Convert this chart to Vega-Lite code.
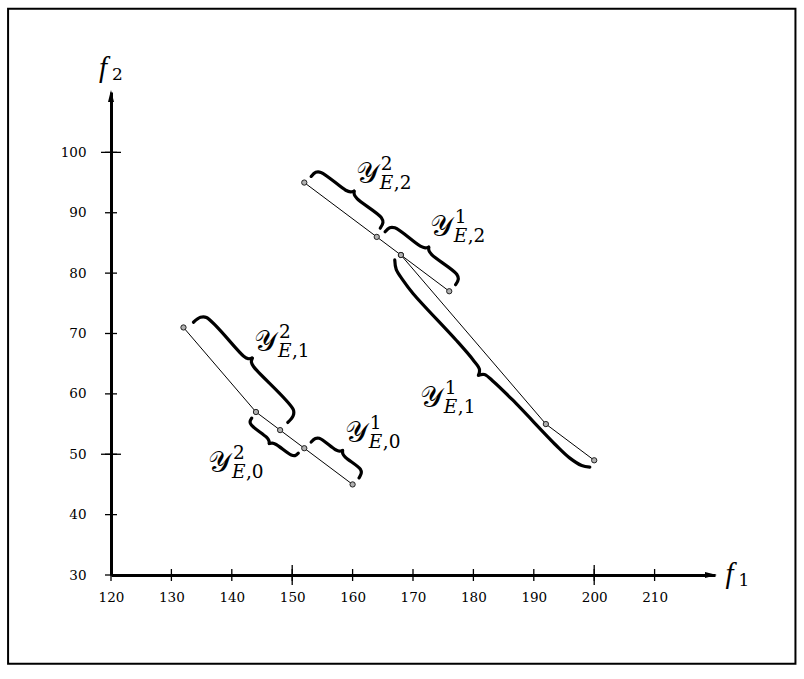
{
  "$schema": "https://vega.github.io/schema/vega-lite/v6.json",
  "width": 604,
  "height": 483,
  "autosize": {"type": "none"},
  "padding": {"left": 111, "top": 92, "right": 89, "bottom": 104},
  "background": "white",
  "config": {"view": {"stroke": null}},
  "datasets": {
    "pts": [
      {"s": "a", "i": 1, "x": 132, "y": 71},
      {"s": "a", "i": 2, "x": 144, "y": 57},
      {"s": "a", "i": 3, "x": 148, "y": 54},
      {"s": "a", "i": 4, "x": 152, "y": 51},
      {"s": "a", "i": 5, "x": 160, "y": 45},
      {"s": "b", "i": 1, "x": 152, "y": 95},
      {"s": "b", "i": 2, "x": 164, "y": 86},
      {"s": "b", "i": 3, "x": 168, "y": 83},
      {"s": "b", "i": 4, "x": 176, "y": 77},
      {"s": "c", "i": 1, "x": 168, "y": 83},
      {"s": "c", "i": 2, "x": 192, "y": 55},
      {"s": "c", "i": 3, "x": 200, "y": 49}
    ],
    "braces": [
      {"h": "1a", "o": 1, "x": 153.14, "y": 96.02},
      {"h": "1a", "o": 2, "x": 153.9, "y": 96.7},
      {"h": "1a", "o": 3, "x": 154.76, "y": 96.68},
      {"h": "1a", "o": 4, "x": 158.86, "y": 93.73},
      {"h": "1a", "o": 5, "x": 159.65, "y": 93.45},
      {"h": "1a", "o": 6, "x": 160.24, "y": 93.57},
      {"h": "1b", "o": 1, "x": 160.24, "y": 93.57},
      {"h": "1b", "o": 2, "x": 160.29, "y": 92.97},
      {"h": "1b", "o": 3, "x": 160.78, "y": 92.29},
      {"h": "1b", "o": 4, "x": 164.76, "y": 89.18},
      {"h": "1b", "o": 5, "x": 165.02, "y": 88.36},
      {"h": "1b", "o": 6, "x": 164.58, "y": 87.44},
      {"h": "2a", "o": 1, "x": 165.38, "y": 86.84},
      {"h": "2a", "o": 2, "x": 166.14, "y": 87.52},
      {"h": "2a", "o": 3, "x": 167.0, "y": 87.5},
      {"h": "2a", "o": 4, "x": 171.22, "y": 84.46},
      {"h": "2a", "o": 5, "x": 172.01, "y": 84.18},
      {"h": "2a", "o": 6, "x": 172.6, "y": 84.3},
      {"h": "2b", "o": 1, "x": 172.6, "y": 84.3},
      {"h": "2b", "o": 2, "x": 172.65, "y": 83.7},
      {"h": "2b", "o": 3, "x": 173.14, "y": 83.02},
      {"h": "2b", "o": 4, "x": 177.24, "y": 79.82},
      {"h": "2b", "o": 5, "x": 177.5, "y": 79.0},
      {"h": "2b", "o": 6, "x": 177.06, "y": 78.08},
      {"h": "3a", "o": 1, "x": 133.65, "y": 71.87},
      {"h": "3a", "o": 2, "x": 134.81, "y": 72.68},
      {"h": "3a", "o": 3, "x": 135.8, "y": 72.65},
      {"h": "3a", "o": 4, "x": 141.97, "y": 66.24},
      {"h": "3a", "o": 5, "x": 142.7, "y": 65.83},
      {"h": "3a", "o": 6, "x": 143.38, "y": 65.92},
      {"h": "3b", "o": 1, "x": 143.38, "y": 65.92},
      {"h": "3b", "o": 2, "x": 143.25, "y": 65.25},
      {"h": "3b", "o": 3, "x": 143.62, "y": 64.49},
      {"h": "3b", "o": 4, "x": 150.19, "y": 57.36},
      {"h": "3b", "o": 5, "x": 150.16, "y": 56.37},
      {"h": "3b", "o": 6, "x": 149.28, "y": 55.27},
      {"h": "4a", "o": 1, "x": 143.29, "y": 55.97},
      {"h": "4a", "o": 2, "x": 143.02, "y": 55.36},
      {"h": "4a", "o": 3, "x": 143.28, "y": 54.79},
      {"h": "4a", "o": 4, "x": 145.74, "y": 52.82},
      {"h": "4a", "o": 5, "x": 146.14, "y": 52.27},
      {"h": "4a", "o": 6, "x": 146.21, "y": 51.78},
      {"h": "4b", "o": 1, "x": 146.21, "y": 51.78},
      {"h": "4b", "o": 2, "x": 146.7, "y": 51.85},
      {"h": "4b", "o": 3, "x": 147.34, "y": 51.62},
      {"h": "4b", "o": 4, "x": 149.84, "y": 49.87},
      {"h": "4b", "o": 5, "x": 150.46, "y": 49.78},
      {"h": "4b", "o": 6, "x": 151.01, "y": 50.18},
      {"h": "5a", "o": 1, "x": 153.14, "y": 52.02},
      {"h": "5a", "o": 2, "x": 153.84, "y": 52.62},
      {"h": "5a", "o": 3, "x": 154.48, "y": 52.64},
      {"h": "5a", "o": 4, "x": 157.18, "y": 50.74},
      {"h": "5a", "o": 5, "x": 157.82, "y": 50.51},
      {"h": "5a", "o": 6, "x": 158.34, "y": 50.62},
      {"h": "5b", "o": 1, "x": 158.34, "y": 50.62},
      {"h": "5b", "o": 2, "x": 158.38, "y": 50.09},
      {"h": "5b", "o": 3, "x": 158.78, "y": 49.54},
      {"h": "5b", "o": 4, "x": 161.28, "y": 47.54},
      {"h": "5b", "o": 5, "x": 161.44, "y": 46.92},
      {"h": "5b", "o": 6, "x": 161.06, "y": 46.08},
      {"h": "6a", "o": 1, "x": 166.98, "y": 82.18},
      {"h": "6a", "o": 2, "x": 167.22, "y": 80.62},
      {"h": "6a", "o": 3, "x": 168.3, "y": 78.89},
      {"h": "6a", "o": 4, "x": 170.0, "y": 76.64},
      {"h": "6a", "o": 5, "x": 177.12, "y": 68.93},
      {"h": "6a", "o": 6, "x": 179.93, "y": 65.66},
      {"h": "6a", "o": 7, "x": 181.01, "y": 64.07},
      {"h": "6a", "o": 8, "x": 180.84, "y": 63.09},
      {"h": "6b", "o": 1, "x": 180.84, "y": 63.09},
      {"h": "6b", "o": 2, "x": 181.83, "y": 63.2},
      {"h": "6b", "o": 3, "x": 183.35, "y": 62.02},
      {"h": "6b", "o": 4, "x": 186.45, "y": 59.03},
      {"h": "6b", "o": 5, "x": 193.72, "y": 51.45},
      {"h": "6b", "o": 6, "x": 195.92, "y": 49.4},
      {"h": "6b", "o": 7, "x": 197.93, "y": 48.14},
      {"h": "6b", "o": 8, "x": 199.27, "y": 47.88}
    ],
    "labs": [
      {"x": 160.53, "y": 95.01, "m": "𝒴", "sup": "2", "e": "E", "n": ",2"},
      {"x": 172.77, "y": 86.08, "m": "𝒴", "sup": "1", "e": "E", "n": ",2"},
      {"x": 143.66, "y": 67.06, "m": "𝒴", "sup": "2", "e": "E", "n": ",1"},
      {"x": 171.12, "y": 57.79, "m": "𝒴", "sup": "1", "e": "E", "n": ",1"},
      {"x": 158.71, "y": 52.0, "m": "𝒴", "sup": "1", "e": "E", "n": ",0"},
      {"x": 136.05, "y": 47.04, "m": "𝒴", "sup": "2", "e": "E", "n": ",0"}
    ],
    "axlabs": [
      {"x": 221.74, "y": 28.6, "f": "f", "s": "1"},
      {"x": 118.01, "y": 112.55, "f": "f", "s": "2"}
    ],
    "xt": [{"v": 120}, {"v": 130}, {"v": 140}, {"v": 150}, {"v": 160}, {"v": 170}, {"v": 180}, {"v": 190}, {"v": 200}, {"v": 210}],
    "yt": [{"v": 30}, {"v": 40}, {"v": 50}, {"v": 60}, {"v": 70}, {"v": 80}, {"v": 90}, {"v": 100}]
  },
  "layer": [
    {
      "data": {"values": [{"k": "frame"}]},
      "mark": {"type": "rect", "filled": false, "stroke": "black", "strokeWidth": 2},
      "encoding": {
        "x": {"datum": 102.96, "type": "quantitative", "scale": {"domain": [120, 220], "nice": false, "zero": false},
          "axis": {"values": [120, 130, 140, 150, 160, 170, 180, 190, 200, 210], "title": null, "grid": false, "ticks": false, "domain": true, "domainColor": "black", "domainWidth": 3, "labelFont": "DejaVu Serif", "labelFontSize": 13.5, "labelColor": "black", "labelPadding": 15, "labelFlush": false}},
        "x2": {"datum": 233.32},
        "y": {"datum": 15.28, "type": "quantitative", "scale": {"domain": [30, 110], "nice": false, "zero": false},
          "axis": {"values": [30, 40, 50, 60, 70, 80, 90, 100], "title": null, "grid": false, "ticks": false, "domain": true, "domainColor": "black", "domainWidth": 3, "labelFont": "DejaVu Serif", "labelFontSize": 13.5, "labelColor": "black", "labelPadding": 25, "labelFlush": false}},
        "y2": {"datum": 123.8}
      }
    },
    {
      "data": {"name": "pts"},
      "mark": {"type": "line", "color": "black", "strokeWidth": 1},
      "encoding": {
        "x": {"field": "x", "type": "quantitative", "scale": {"domain": [120, 220], "nice": false, "zero": false},
          "axis": {"values": [120, 130, 140, 150, 160, 170, 180, 190, 200, 210], "title": null, "grid": false, "ticks": false, "domain": true, "domainColor": "black", "domainWidth": 3, "labelFont": "DejaVu Serif", "labelFontSize": 13.5, "labelColor": "black", "labelPadding": 15, "labelFlush": false}},
        "y": {"field": "y", "type": "quantitative", "scale": {"domain": [30, 110], "nice": false, "zero": false},
          "axis": {"values": [30, 40, 50, 60, 70, 80, 90, 100], "title": null, "grid": false, "ticks": false, "domain": true, "domainColor": "black", "domainWidth": 3, "labelFont": "DejaVu Serif", "labelFontSize": 13.5, "labelColor": "black", "labelPadding": 25, "labelFlush": false}},
        "detail": {"field": "s"},
        "order": {"field": "i", "type": "quantitative"}
      }
    },
    {
      "data": {"name": "pts"},
      "mark": {"type": "point", "shape": "circle", "size": 28, "filled": true, "fill": "#b0b0b0", "stroke": "#222222", "strokeWidth": 1, "opacity": 1},
      "encoding": {
        "x": {"field": "x", "type": "quantitative", "scale": {"domain": [120, 220], "nice": false, "zero": false},
          "axis": {"values": [120, 130, 140, 150, 160, 170, 180, 190, 200, 210], "title": null, "grid": false, "ticks": false, "domain": true, "domainColor": "black", "domainWidth": 3, "labelFont": "DejaVu Serif", "labelFontSize": 13.5, "labelColor": "black", "labelPadding": 15, "labelFlush": false}},
        "y": {"field": "y", "type": "quantitative", "scale": {"domain": [30, 110], "nice": false, "zero": false},
          "axis": {"values": [30, 40, 50, 60, 70, 80, 90, 100], "title": null, "grid": false, "ticks": false, "domain": true, "domainColor": "black", "domainWidth": 3, "labelFont": "DejaVu Serif", "labelFontSize": 13.5, "labelColor": "black", "labelPadding": 25, "labelFlush": false}}
      }
    },
    {
      "data": {"name": "braces"},
      "mark": {"type": "line", "color": "black", "strokeWidth": 3.2, "strokeCap": "round", "strokeJoin": "round", "interpolate": "catmull-rom"},
      "encoding": {
        "x": {"field": "x", "type": "quantitative", "scale": {"domain": [120, 220], "nice": false, "zero": false},
          "axis": {"values": [120, 130, 140, 150, 160, 170, 180, 190, 200, 210], "title": null, "grid": false, "ticks": false, "domain": true, "domainColor": "black", "domainWidth": 3, "labelFont": "DejaVu Serif", "labelFontSize": 13.5, "labelColor": "black", "labelPadding": 15, "labelFlush": false}},
        "y": {"field": "y", "type": "quantitative", "scale": {"domain": [30, 110], "nice": false, "zero": false},
          "axis": {"values": [30, 40, 50, 60, 70, 80, 90, 100], "title": null, "grid": false, "ticks": false, "domain": true, "domainColor": "black", "domainWidth": 3, "labelFont": "DejaVu Serif", "labelFontSize": 13.5, "labelColor": "black", "labelPadding": 25, "labelFlush": false}},
        "detail": {"field": "h"},
        "order": {"field": "o", "type": "quantitative"}
      }
    },
    {
      "data": {"name": "xt"},
      "mark": {"type": "tick", "orient": "vertical", "size": 12, "thickness": 1.3, "color": "black", "opacity": 1},
      "encoding": {
        "x": {"field": "v", "type": "quantitative", "scale": {"domain": [120, 220], "nice": false, "zero": false},
          "axis": {"values": [120, 130, 140, 150, 160, 170, 180, 190, 200, 210], "title": null, "grid": false, "ticks": false, "domain": true, "domainColor": "black", "domainWidth": 3, "labelFont": "DejaVu Serif", "labelFontSize": 13.5, "labelColor": "black", "labelPadding": 15, "labelFlush": false}},
        "y": {"datum": 30, "type": "quantitative", "scale": {"domain": [30, 110], "nice": false, "zero": false},
          "axis": {"values": [30, 40, 50, 60, 70, 80, 90, 100], "title": null, "grid": false, "ticks": false, "domain": true, "domainColor": "black", "domainWidth": 3, "labelFont": "DejaVu Serif", "labelFontSize": 13.5, "labelColor": "black", "labelPadding": 25, "labelFlush": false}}
      }
    },
    {
      "data": {"name": "xt"},
      "transform": [{"filter": "datum.v == 150 || datum.v == 200"}],
      "mark": {"type": "tick", "orient": "vertical", "size": 20, "thickness": 1.3, "color": "black", "opacity": 1},
      "encoding": {
        "x": {"field": "v", "type": "quantitative", "scale": {"domain": [120, 220], "nice": false, "zero": false},
          "axis": {"values": [120, 130, 140, 150, 160, 170, 180, 190, 200, 210], "title": null, "grid": false, "ticks": false, "domain": true, "domainColor": "black", "domainWidth": 3, "labelFont": "DejaVu Serif", "labelFontSize": 13.5, "labelColor": "black", "labelPadding": 15, "labelFlush": false}},
        "y": {"datum": 30, "type": "quantitative", "scale": {"domain": [30, 110], "nice": false, "zero": false},
          "axis": {"values": [30, 40, 50, 60, 70, 80, 90, 100], "title": null, "grid": false, "ticks": false, "domain": true, "domainColor": "black", "domainWidth": 3, "labelFont": "DejaVu Serif", "labelFontSize": 13.5, "labelColor": "black", "labelPadding": 25, "labelFlush": false}}
      }
    },
    {
      "data": {"name": "yt"},
      "mark": {"type": "tick", "orient": "horizontal", "size": 12, "thickness": 1.3, "color": "black", "opacity": 1},
      "encoding": {
        "y": {"field": "v", "type": "quantitative", "scale": {"domain": [30, 110], "nice": false, "zero": false},
          "axis": {"values": [30, 40, 50, 60, 70, 80, 90, 100], "title": null, "grid": false, "ticks": false, "domain": true, "domainColor": "black", "domainWidth": 3, "labelFont": "DejaVu Serif", "labelFontSize": 13.5, "labelColor": "black", "labelPadding": 25, "labelFlush": false}},
        "x": {"datum": 120, "type": "quantitative", "scale": {"domain": [120, 220], "nice": false, "zero": false},
          "axis": {"values": [120, 130, 140, 150, 160, 170, 180, 190, 200, 210], "title": null, "grid": false, "ticks": false, "domain": true, "domainColor": "black", "domainWidth": 3, "labelFont": "DejaVu Serif", "labelFontSize": 13.5, "labelColor": "black", "labelPadding": 15, "labelFlush": false}}
      }
    },
    {
      "data": {"name": "yt"},
      "transform": [{"filter": "datum.v == 50 || datum.v == 100"}],
      "mark": {"type": "tick", "orient": "horizontal", "size": 20, "thickness": 1.3, "color": "black", "opacity": 1},
      "encoding": {
        "y": {"field": "v", "type": "quantitative", "scale": {"domain": [30, 110], "nice": false, "zero": false},
          "axis": {"values": [30, 40, 50, 60, 70, 80, 90, 100], "title": null, "grid": false, "ticks": false, "domain": true, "domainColor": "black", "domainWidth": 3, "labelFont": "DejaVu Serif", "labelFontSize": 13.5, "labelColor": "black", "labelPadding": 25, "labelFlush": false}},
        "x": {"datum": 120, "type": "quantitative", "scale": {"domain": [120, 220], "nice": false, "zero": false},
          "axis": {"values": [120, 130, 140, 150, 160, 170, 180, 190, 200, 210], "title": null, "grid": false, "ticks": false, "domain": true, "domainColor": "black", "domainWidth": 3, "labelFont": "DejaVu Serif", "labelFontSize": 13.5, "labelColor": "black", "labelPadding": 15, "labelFlush": false}}
      }
    },
    {
      "data": {"values": [{"k": "xarrow"}]},
      "mark": {"type": "point", "shape": "M-1.67,-0.5L0.33,0L-1.67,0.5Z", "size": 144, "filled": true, "color": "black", "opacity": 1},
      "encoding": {
        "x": {"datum": 220, "type": "quantitative", "scale": {"domain": [120, 220], "nice": false, "zero": false},
          "axis": {"values": [120, 130, 140, 150, 160, 170, 180, 190, 200, 210], "title": null, "grid": false, "ticks": false, "domain": true, "domainColor": "black", "domainWidth": 3, "labelFont": "DejaVu Serif", "labelFontSize": 13.5, "labelColor": "black", "labelPadding": 15, "labelFlush": false}},
        "y": {"datum": 30, "type": "quantitative", "scale": {"domain": [30, 110], "nice": false, "zero": false},
          "axis": {"values": [30, 40, 50, 60, 70, 80, 90, 100], "title": null, "grid": false, "ticks": false, "domain": true, "domainColor": "black", "domainWidth": 3, "labelFont": "DejaVu Serif", "labelFontSize": 13.5, "labelColor": "black", "labelPadding": 25, "labelFlush": false}}
      }
    },
    {
      "data": {"values": [{"k": "yarrow"}]},
      "mark": {"type": "point", "shape": "M-0.5,1.67L0,-0.33L0.5,1.67Z", "size": 144, "filled": true, "color": "black", "opacity": 1},
      "encoding": {
        "x": {"datum": 120, "type": "quantitative", "scale": {"domain": [120, 220], "nice": false, "zero": false},
          "axis": {"values": [120, 130, 140, 150, 160, 170, 180, 190, 200, 210], "title": null, "grid": false, "ticks": false, "domain": true, "domainColor": "black", "domainWidth": 3, "labelFont": "DejaVu Serif", "labelFontSize": 13.5, "labelColor": "black", "labelPadding": 15, "labelFlush": false}},
        "y": {"datum": 110, "type": "quantitative", "scale": {"domain": [30, 110], "nice": false, "zero": false},
          "axis": {"values": [30, 40, 50, 60, 70, 80, 90, 100], "title": null, "grid": false, "ticks": false, "domain": true, "domainColor": "black", "domainWidth": 3, "labelFont": "DejaVu Serif", "labelFontSize": 13.5, "labelColor": "black", "labelPadding": 25, "labelFlush": false}}
      }
    },
    {
      "data": {"name": "labs"},
      "mark": {"type": "text", "align": "left", "baseline": "alphabetic", "font": "DejaVu Serif", "fontSize": 29, "color": "black"},
      "encoding": {
        "x": {"field": "x", "type": "quantitative", "scale": {"domain": [120, 220], "nice": false, "zero": false},
          "axis": {"values": [120, 130, 140, 150, 160, 170, 180, 190, 200, 210], "title": null, "grid": false, "ticks": false, "domain": true, "domainColor": "black", "domainWidth": 3, "labelFont": "DejaVu Serif", "labelFontSize": 13.5, "labelColor": "black", "labelPadding": 15, "labelFlush": false}},
        "y": {"field": "y", "type": "quantitative", "scale": {"domain": [30, 110], "nice": false, "zero": false},
          "axis": {"values": [30, 40, 50, 60, 70, 80, 90, 100], "title": null, "grid": false, "ticks": false, "domain": true, "domainColor": "black", "domainWidth": 3, "labelFont": "DejaVu Serif", "labelFontSize": 13.5, "labelColor": "black", "labelPadding": 25, "labelFlush": false}},
        "text": {"field": "m"}
      }
    },
    {
      "data": {"name": "labs"},
      "mark": {"type": "text", "align": "left", "baseline": "alphabetic", "font": "DejaVu Serif", "fontSize": 18.5, "color": "black", "dx": 25, "dy": -13},
      "encoding": {
        "x": {"field": "x", "type": "quantitative", "scale": {"domain": [120, 220], "nice": false, "zero": false},
          "axis": {"values": [120, 130, 140, 150, 160, 170, 180, 190, 200, 210], "title": null, "grid": false, "ticks": false, "domain": true, "domainColor": "black", "domainWidth": 3, "labelFont": "DejaVu Serif", "labelFontSize": 13.5, "labelColor": "black", "labelPadding": 15, "labelFlush": false}},
        "y": {"field": "y", "type": "quantitative", "scale": {"domain": [30, 110], "nice": false, "zero": false},
          "axis": {"values": [30, 40, 50, 60, 70, 80, 90, 100], "title": null, "grid": false, "ticks": false, "domain": true, "domainColor": "black", "domainWidth": 3, "labelFont": "DejaVu Serif", "labelFontSize": 13.5, "labelColor": "black", "labelPadding": 25, "labelFlush": false}},
        "text": {"field": "sup"}
      }
    },
    {
      "data": {"name": "labs"},
      "mark": {"type": "text", "align": "left", "baseline": "alphabetic", "font": "DejaVu Serif", "fontStyle": "italic", "fontSize": 18.5, "color": "black", "dx": 24, "dy": 6},
      "encoding": {
        "x": {"field": "x", "type": "quantitative", "scale": {"domain": [120, 220], "nice": false, "zero": false},
          "axis": {"values": [120, 130, 140, 150, 160, 170, 180, 190, 200, 210], "title": null, "grid": false, "ticks": false, "domain": true, "domainColor": "black", "domainWidth": 3, "labelFont": "DejaVu Serif", "labelFontSize": 13.5, "labelColor": "black", "labelPadding": 15, "labelFlush": false}},
        "y": {"field": "y", "type": "quantitative", "scale": {"domain": [30, 110], "nice": false, "zero": false},
          "axis": {"values": [30, 40, 50, 60, 70, 80, 90, 100], "title": null, "grid": false, "ticks": false, "domain": true, "domainColor": "black", "domainWidth": 3, "labelFont": "DejaVu Serif", "labelFontSize": 13.5, "labelColor": "black", "labelPadding": 25, "labelFlush": false}},
        "text": {"field": "e"}
      }
    },
    {
      "data": {"name": "labs"},
      "mark": {"type": "text", "align": "left", "baseline": "alphabetic", "font": "DejaVu Serif", "fontSize": 18.5, "color": "black", "dx": 38, "dy": 6},
      "encoding": {
        "x": {"field": "x", "type": "quantitative", "scale": {"domain": [120, 220], "nice": false, "zero": false},
          "axis": {"values": [120, 130, 140, 150, 160, 170, 180, 190, 200, 210], "title": null, "grid": false, "ticks": false, "domain": true, "domainColor": "black", "domainWidth": 3, "labelFont": "DejaVu Serif", "labelFontSize": 13.5, "labelColor": "black", "labelPadding": 15, "labelFlush": false}},
        "y": {"field": "y", "type": "quantitative", "scale": {"domain": [30, 110], "nice": false, "zero": false},
          "axis": {"values": [30, 40, 50, 60, 70, 80, 90, 100], "title": null, "grid": false, "ticks": false, "domain": true, "domainColor": "black", "domainWidth": 3, "labelFont": "DejaVu Serif", "labelFontSize": 13.5, "labelColor": "black", "labelPadding": 25, "labelFlush": false}},
        "text": {"field": "n"}
      }
    },
    {
      "data": {"name": "axlabs"},
      "mark": {"type": "text", "align": "left", "baseline": "alphabetic", "font": "Liberation Serif", "fontStyle": "italic", "fontSize": 29, "color": "black"},
      "encoding": {
        "x": {"field": "x", "type": "quantitative", "scale": {"domain": [120, 220], "nice": false, "zero": false},
          "axis": {"values": [120, 130, 140, 150, 160, 170, 180, 190, 200, 210], "title": null, "grid": false, "ticks": false, "domain": true, "domainColor": "black", "domainWidth": 3, "labelFont": "DejaVu Serif", "labelFontSize": 13.5, "labelColor": "black", "labelPadding": 15, "labelFlush": false}},
        "y": {"field": "y", "type": "quantitative", "scale": {"domain": [30, 110], "nice": false, "zero": false},
          "axis": {"values": [30, 40, 50, 60, 70, 80, 90, 100], "title": null, "grid": false, "ticks": false, "domain": true, "domainColor": "black", "domainWidth": 3, "labelFont": "DejaVu Serif", "labelFontSize": 13.5, "labelColor": "black", "labelPadding": 25, "labelFlush": false}},
        "text": {"field": "f"}
      }
    },
    {
      "data": {"name": "axlabs"},
      "mark": {"type": "text", "align": "left", "baseline": "alphabetic", "font": "DejaVu Serif", "fontSize": 17, "color": "black", "dx": 13, "dy": 3},
      "encoding": {
        "x": {"field": "x", "type": "quantitative", "scale": {"domain": [120, 220], "nice": false, "zero": false},
          "axis": {"values": [120, 130, 140, 150, 160, 170, 180, 190, 200, 210], "title": null, "grid": false, "ticks": false, "domain": true, "domainColor": "black", "domainWidth": 3, "labelFont": "DejaVu Serif", "labelFontSize": 13.5, "labelColor": "black", "labelPadding": 15, "labelFlush": false}},
        "y": {"field": "y", "type": "quantitative", "scale": {"domain": [30, 110], "nice": false, "zero": false},
          "axis": {"values": [30, 40, 50, 60, 70, 80, 90, 100], "title": null, "grid": false, "ticks": false, "domain": true, "domainColor": "black", "domainWidth": 3, "labelFont": "DejaVu Serif", "labelFontSize": 13.5, "labelColor": "black", "labelPadding": 25, "labelFlush": false}},
        "text": {"field": "s"}
      }
    }
  ]
}
